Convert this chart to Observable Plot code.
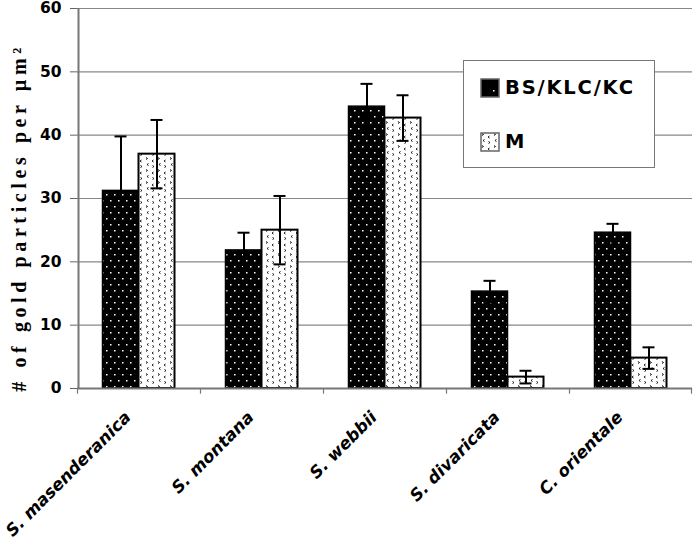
<!DOCTYPE html>
<html><head><meta charset="utf-8">
<script src="https://cdn.jsdelivr.net/npm/d3@7"></script>
<script src="https://cdn.jsdelivr.net/npm/@observablehq/plot@0.6"></script>
<style>
body{margin:0;background:#fff;}
#wrap{position:relative;width:693px;height:541px;}
#legend{position:absolute;left:463px;top:60px;width:190px;height:106px;border:1.5px solid #777;background:#fff;font-family:"DejaVu Sans",Arial,sans-serif;font-weight:bold;font-size:19.5px;letter-spacing:1.8px;color:#000;}
#legend .row{position:absolute;left:16px;display:flex;align-items:center;}
#legend svg{margin-right:5px;}
</style></head>
<body><div id="wrap"><div id="legend"></div></div>
<script>
const categories = ["S. masenderanica","S. montana","S. webbii","S. divaricata","C. orientale"];
const series = ["BS/KLC/KC","M"];
const valuesBS = [31.2, 21.8, 44.5, 15.3, 24.6];
const errorsBS = [8.6, 2.8, 3.6, 1.7, 1.4];
const valuesM = [37.0, 25.0, 42.7, 1.8, 4.8];
const errorsM = [5.4, 5.4, 3.6, 1.0, 1.7];
const yTicks = [0,10,20,30,40,50,60];
const yLabel = "# of gold particles per µm²";

const W = 693, H = 541;
const mL = 77, mR = 1, mT = 8, mB = 153;
const step = (W - mL - mR) / categories.length;
const barW = 36;
const half = step / 2;
const capW = 12;

const rowsBS = categories.map((c,i)=>({cat:c, v:valuesBS[i], lo:valuesBS[i]-errorsBS[i], hi:valuesBS[i]+errorsBS[i]}));
const rowsM = categories.map((c,i)=>({cat:c, v:valuesM[i], lo:valuesM[i]-errorsM[i], hi:valuesM[i]+errorsM[i]}));

const bsL = half - barW, bsR = step - half;
const mLft = half, mRgt = step - half - barW;
const capBS = {insetLeft: half - barW/2 - capW/2, insetRight: step - (half - barW/2 + capW/2)};
const capM = {insetLeft: half + barW/2 - capW/2, insetRight: step - (half + barW/2 + capW/2)};

const font = "'DejaVu Sans', Arial, sans-serif";

const chart = Plot.plot({
  width: W, height: H,
  marginLeft: mL, marginRight: mR, marginTop: mT, marginBottom: mB,
  style: {fontFamily: font, background: "#fff", overflow: "visible"},
  x: {type: "band", domain: categories, padding: 0, axis: null},
  y: {domain: [0, 60], axis: null},
  marks: [
    Plot.ruleY(yTicks, {stroke: "#888", strokeWidth: 1.2}),
    Plot.barY(rowsBS, {x: "cat", y: "v", fill: "url(#patBS)", stroke: "#000", strokeWidth: 1.5, insetLeft: bsL, insetRight: bsR}),
    Plot.barY(rowsM, {x: "cat", y: "v", fill: "url(#patM)", stroke: "#000", strokeWidth: 2, insetLeft: mLft, insetRight: mRgt}),
    Plot.ruleX(rowsBS, {x: "cat", y1: "lo", y2: "hi", dx: -barW/2, stroke: "#000", strokeWidth: 2}),
    Plot.ruleX(rowsM, {x: "cat", y1: "lo", y2: "hi", dx: barW/2, stroke: "#000", strokeWidth: 2}),
    Plot.tickY(rowsBS, {x: "cat", y: "hi", stroke: "#000", strokeWidth: 2, ...capBS}),
    Plot.tickY(rowsBS, {x: "cat", y: "lo", stroke: "#000", strokeWidth: 2, ...capBS}),
    Plot.tickY(rowsM, {x: "cat", y: "hi", stroke: "#000", strokeWidth: 2, ...capM}),
    Plot.tickY(rowsM, {x: "cat", y: "lo", stroke: "#000", strokeWidth: 2, ...capM}),
    // y axis
    Plot.axisY(yTicks, {ticks: yTicks, tickSize: 7, stroke: "#666", tickPadding: 9, fontSize: 15.5, fontWeight: "bold", fill: "#000", label: null}),
    Plot.ruleX(categories.slice(0, 1), {x: d => d, y1: 0, y2: 60, dx: -half + 1, stroke: "#777", strokeWidth: 2}),
    // x axis
    Plot.ruleY([0], {stroke: "#777", strokeWidth: 2}),
    Plot.ruleX(categories, {x: d => d, y1: 0, y2: -0.9, dx: -half, stroke: "#777", strokeWidth: 1.2}),
    Plot.ruleX(categories.slice(-1), {x: d => d, y1: 0, y2: -0.9, dx: half - 1, stroke: "#777", strokeWidth: 1.2}),
    Plot.axisX({tickSize: 0, tickRotate: -45, tickPadding: 26, dx: -11, fontSize: 16.8, fontWeight: "bold", fontStyle: "italic", fill: "#000", label: null}),
    Plot.text([yLabel], {frameAnchor: "left", textAnchor: "middle", dx: -58, dy: 19, rotate: -90, fontSize: 20, fontWeight: "bold", fill: "#000", fontFamily: "'Liberation Serif', 'Times New Roman', serif"})
  ]
});

const defs = `
<defs>
  <pattern id="patBS" patternUnits="userSpaceOnUse" width="8" height="12">
    <rect width="8" height="12" fill="#000"/>
    <rect x="2" y="2" width="1.5" height="1.5" fill="#fff"/>
    <rect x="6" y="8" width="1.5" height="1.5" fill="#fff"/>
  </pattern>
  <pattern id="patM" patternUnits="userSpaceOnUse" width="12" height="12">
    <rect width="12" height="12" fill="#fff"/>
    <path d="M2,1.5 L3.5,2.5 L2,3.5" fill="none" stroke="#000" stroke-width="0.9"/>
    <path d="M9.5,4 L8,5 L9.5,6" fill="none" stroke="#000" stroke-width="0.9"/>
    <path d="M4.5,7.5 L3,8.5 L4.5,9.5" fill="none" stroke="#000" stroke-width="0.9"/>
    <path d="M8.5,9.5 L10,10.5 L8.5,11.5" fill="none" stroke="#000" stroke-width="0.9"/>
  </pattern>
  <pattern id="patBSl" patternUnits="userSpaceOnUse" width="20" height="20">
    <rect width="20" height="20" fill="#000"/>
    <rect x="13" y="12" width="1.5" height="1.5" fill="#fff"/>
  </pattern>
</defs>`;
chart.insertAdjacentHTML("afterbegin", defs);
chart.querySelectorAll("text").forEach(t => {
  if (t.textContent === yLabel) t.setAttribute("letter-spacing", "4.6");
});
document.getElementById("wrap").prepend(chart);

const legend = document.getElementById("legend");
const sw = (id) => `<svg width="20" height="20"><rect x="1" y="1" width="18" height="18" fill="url(#${id})" stroke="#666" stroke-width="1.5"/></svg>`;
series.forEach((s, i) => {
  const row = document.createElement("div");
  row.className = "row";
  row.style.top = (i === 0 ? 15 : 69) + "px";
  row.innerHTML = sw(i === 0 ? "patBSl" : "patM") + `<span>${s}</span>`;
  legend.appendChild(row);
});
</script>
</body></html>
